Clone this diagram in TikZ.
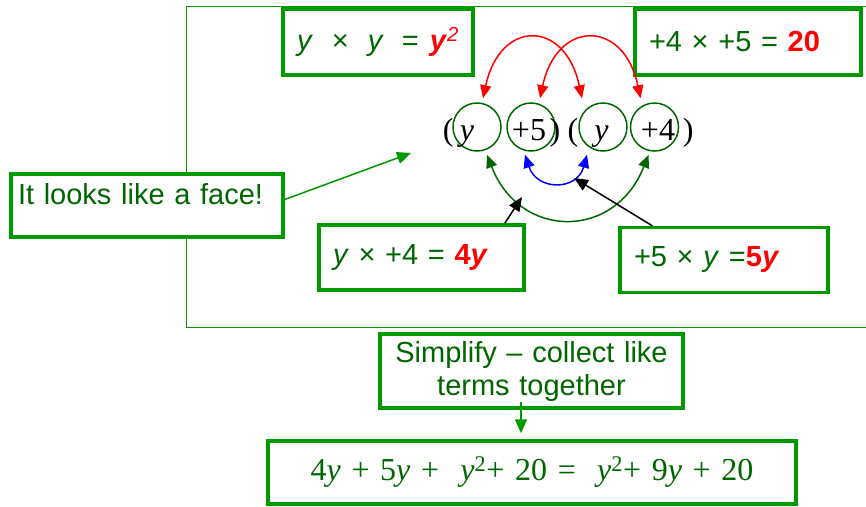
\documentclass[tikz,border=0pt]{standalone}
\usepackage{fontspec}
\usepackage{tikz}
\usetikzlibrary{positioning,arrows.meta,calc}
\newfontfamily\sansf{Liberation Sans}
\newfontfamily\serf{Liberation Serif}
\newcommand\bxfont{\sansf\fontsize{29}{33}\selectfont}
\newcommand\eqfont{\serf\fontsize{32}{36}\selectfont}
\definecolor{boxgreen}{RGB}{0,153,0}
\definecolor{txtgreen}{RGB}{0,102,0}
\definecolor{hired}{RGB}{255,0,0}
\newcommand\hl[1]{\textcolor{hired}{\bfseries #1}}

\begin{document}
\begin{tikzpicture}[
  x=1pt, y=-1pt,
  tbox/.style={draw=boxgreen, line width=3.5pt, fill=white, text=txtgreen, font=\bxfont,
    inner xsep=14pt, inner ysep=0pt, align=left},
  ring/.style={circle, draw=txtgreen, line width=1.5pt, minimum size=48pt, inner sep=0pt},
  sym/.style={anchor=base, inner sep=0pt, font=\eqfont},
  redarr/.style={draw=hired, line width=1.5pt, {Triangle[length=13pt,width=11pt]}-{Triangle[length=13pt,width=11pt]}},
  bluearr/.style={draw=blue, line width=1.5pt, {Triangle[length=13pt,width=11pt]}-{Triangle[length=13pt,width=11pt]}},
  facearr/.style={draw=txtgreen, line width=1.5pt, {Triangle[length=13pt,width=11pt]}-{Triangle[length=13pt,width=11pt]}},
  blackarr/.style={draw=black, line width=1.5pt, -{Triangle[length=14pt,width=12pt]}},
  greenarr/.style={draw=boxgreen, line width=1.5pt, -{Triangle[length=14pt,width=12pt]}}
]
\useasboundingbox (0,0) rectangle (866,506);
\fill[white] (0,0) rectangle (866,506);

% open frame
\draw[boxgreen, line width=1.5pt] (866,6.5) -- (186.5,6.5) -- (186.5,327.5) -- (866,327.5);

% boxes
\node[tbox, minimum width=190pt, minimum height=66pt, text width=162pt] (bxyy) at (378,42)
  {\mbox{\textit{y}\hspace{19pt}×\hspace{19pt}\textit{y}\hspace{18pt}=\hspace{11pt}\textcolor{hired}{\textbf{\textit{y}}\textsuperscript{\textit{2}}}}};
\node[tbox, minimum width=226pt, minimum height=66pt, text width=198pt] (bxfour) at (748,42)
  {+4 × +5 = \hl{20}};
\node[tbox, inner xsep=7pt, minimum width=272pt, minimum height=63pt, text width=258pt,
  text height=30pt, text depth=33pt] (bface) at (147,205.5) {It looks like a face!};
\node[tbox, minimum width=205pt, minimum height=65pt, text width=177pt] (bfoury) at (421.5,257.5)
  {\textit{y} × +4 = \hl{4\textit{y}}};
\node[tbox, minimum width=208pt, minimum height=65pt, text width=180pt] (bfivey) at (724,260)
  {+5 × \textit{y} =\hl{5\textit{y}}};
\node[tbox, minimum width=303pt, minimum height=74pt, text width=275pt, align=center] (bsimp) at (531.5,371)
  {Simplify – collect like\\terms together};
\node[tbox, minimum width=528pt, minimum height=63pt, text width=500pt, align=center,
  font=\eqfont, text=txtgreen] (bres) at (532,472.5)
  {4\textit{y} + 5\textit{y} + ~\textit{y}\textsuperscript{2}+ 20 = ~\textit{y}\textsuperscript{2}+ 9\textit{y} + 20};

% the brackets
\node[ring] (c1) at (477,127) {};
\node[ring] (c2) at (531,127) {};
\node[ring] (c3) at (603,127) {};
\node[ring] (c4) at (654.5,127) {};
\node[sym] (lpa) at (448.3,140) {(};
\node[sym] (ya) at (467,140) {\textit{y}};
\node[sym] (pfive) at (529,140) {+5};
\node[sym] (rpa) at (555,140) {)};
\node[sym] (lpb) at (573,140) {(};
\node[sym] (yb) at (601.5,140) {\textit{y}};
\node[sym] (pfour) at (658,140) {+4};
\node[sym] (rpb) at (688.3,140) {)};

% pairings
\draw[redarr] ([xshift=6pt,yshift=4pt]c1.north) .. controls (500,19) and (565,19) .. ([xshift=-21pt,yshift=4pt]c3.north);
\draw[redarr] ([xshift=9pt,yshift=4pt]c2.north) .. controls (557,19) and (624,19) .. ([xshift=-14pt,yshift=4pt]c4.north);
\draw[bluearr] ([xshift=-6pt,yshift=-3pt]c2.south) .. controls (537,191) and (577,191) .. ([xshift=-16pt,yshift=-3pt]c3.south);
\draw[facearr] ([xshift=10pt,yshift=-3pt]c1.south) .. controls (520,240) and (615,240) .. ([xshift=-6pt,yshift=-3pt]c4.south);

% pointers
\coordinate (tipa) at (522,197);
\coordinate (tipb) at (574,178);
\coordinate (facept) at (411,153);
\draw[blackarr] ([xshift=-21pt]bfoury.north east) -- (tipa);
\draw[blackarr] ([xshift=34pt]bfivey.north west) -- (tipb);
\draw[greenarr] ([yshift=6pt]bface.east) -- (facept);
\draw[greenarr] ([xshift=-10.5pt,yshift=8pt]bsimp.south) -- ([xshift=-11pt,yshift=6pt]bres.north);

\end{tikzpicture}
\end{document}
